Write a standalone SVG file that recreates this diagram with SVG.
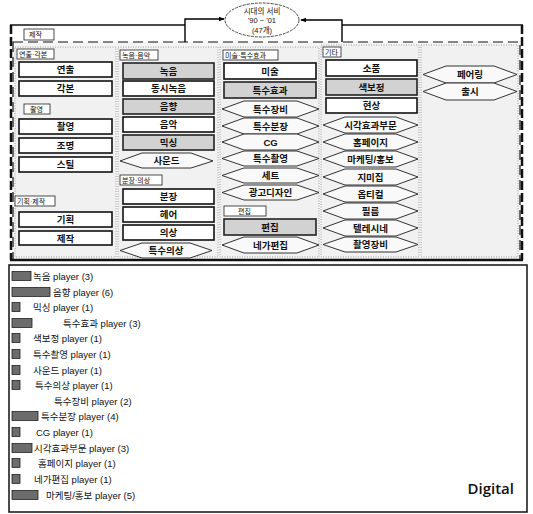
<svg xmlns="http://www.w3.org/2000/svg" width="533" height="514" viewBox="0 0 533 514">
<defs>
<marker id="ah" viewBox="0 0 10 10" refX="9" refY="5" markerWidth="6" markerHeight="6" orient="auto" markerUnits="userSpaceOnUse"><path d="M0,1 L10,5 L0,9 z" fill="#000"/></marker>
<style>
text{font-family:"Liberation Sans","Noto Sans CJK KR",sans-serif;fill:#111}
.n{font-size:9.5px;font-weight:bold;text-anchor:middle;dominant-baseline:central}
.lb{font-size:7px;dominant-baseline:central}
.box{fill:#fff;stroke:#111;stroke-width:1.6}
.sh{fill:#d2d2d2;stroke:#222;stroke-width:1.6}
.hex{fill:#f9f9f9;stroke:#333;stroke-width:1}
.lab{fill:#fff;stroke:#222;stroke-width:0.8}
.col{fill:#f1f1f1;stroke:#8a8a8a;stroke-width:0.8;stroke-dasharray:1 1.5}
.lg{font-size:9.5px;dominant-baseline:central}
.bar{fill:#6c6c6c;stroke:#222;stroke-width:0.8}
.cn{fill:none;stroke:#000;stroke-width:1.4}
</style>
</defs>
<rect width="533" height="514" fill="#fff"/>

<!-- top frame -->
<g id="frame">
<rect x="13" y="42" width="507" height="218" fill="#f5f5f5" stroke="#111" stroke-width="1.2" stroke-dasharray="10 5"/>
<path d="M10,25 H185 M342,25 H523" stroke="#111" stroke-width="1.5" fill="none"/>
<path d="M11,25 V260 M522,25 V260" stroke="#111" stroke-width="2.5" fill="none" stroke-dasharray="9 3"/>
<path d="M10,260 H523" stroke="#111" stroke-width="2.5" fill="none"/>
<rect class="lab" x="24" y="29" width="30" height="11"/><text class="lb" x="29" y="34.5">제작</text>
</g>

<g id="columns">
<rect class="col" x="15" y="47" width="101" height="210"/>
<rect class="col" x="118" y="47" width="100" height="210"/>
<rect class="col" x="220" y="47" width="99" height="210"/>
<rect class="col" x="321" y="45" width="98" height="212"/>
<rect class="col" x="421" y="45" width="97" height="212"/>
</g>

<!-- connectors -->
<g id="connectors">
<path class="cn" d="M185,42 V19 H224" marker-end="url(#ah)"/>
<path class="cn" d="M342,42 V20 H301" marker-end="url(#ah)"/>
</g>

<g id="era">
<ellipse cx="262" cy="20" rx="37" ry="17" fill="#fff" stroke="#333" stroke-width="0.9" stroke-dasharray="3 1"/>
<text x="262" y="11" font-size="7.5" text-anchor="middle" dominant-baseline="central">시대의 서비</text>
<text x="262" y="20.5" font-size="7.5" text-anchor="middle" dominant-baseline="central">'90 ~ '01</text>
<text x="262" y="30" font-size="7.5" text-anchor="middle" dominant-baseline="central">(47개)</text>
</g>

<!-- column 1 -->
<g id="c1-label1"><rect class="lab" x="17" y="49" width="37" height="10"/><text class="lb" x="19" y="54">연출·각본</text></g>
<g id="n-yeonchul"><rect class="box" x="19" y="62" width="93" height="15"/><text class="n" x="65.5" y="69.5">연출</text></g>
<g id="n-gakbon"><rect class="box" x="19" y="81" width="93" height="15"/><text class="n" x="65.5" y="88.5">각본</text></g>
<g id="c1-label2"><rect class="lab" x="24" y="104" width="26" height="10"/><text class="lb" x="30" y="109">촬영</text></g>
<g id="n-chwal"><rect class="box" x="19" y="119" width="93" height="15"/><text class="n" x="65.5" y="126.5">촬영</text></g>
<g id="n-jomyeong"><rect class="box" x="19" y="138" width="93" height="15"/><text class="n" x="65.5" y="145.5">조명</text></g>
<g id="n-still"><rect class="box" x="19" y="157" width="93" height="15"/><text class="n" x="65.5" y="164.5">스틸</text></g>
<g id="c1-label3"><rect class="lab" x="15" y="196" width="40" height="10"/><text class="lb" x="17" y="201">기획·제작</text></g>
<g id="n-gihoek"><rect class="box" x="19" y="212" width="93" height="15"/><text class="n" x="65.5" y="219.5">기획</text></g>
<g id="n-jejak"><rect class="box" x="19" y="231" width="93" height="14"/><text class="n" x="65.5" y="238">제작</text></g>

<!-- column 2 -->
<g id="c2-label1"><rect class="lab" x="120" y="50" width="38" height="10"/><text class="lb" x="122" y="55">녹음·음악</text></g>
<g id="n-noeum"><rect class="sh" x="123" y="63" width="91" height="16"/><text class="n" x="168.5" y="71">녹음</text></g>
<g id="n-dongsi"><rect class="box" x="123" y="81" width="91" height="15"/><text class="n" x="168.5" y="88.5">동시녹음</text></g>
<g id="n-eumhyang"><rect class="sh" x="123" y="99" width="91" height="15"/><text class="n" x="168.5" y="106.5">음향</text></g>
<g id="n-eumak"><rect class="box" x="123" y="117" width="91" height="15"/><text class="n" x="168.5" y="124.5">음악</text></g>
<g id="n-mixing"><rect class="sh" x="123" y="135" width="91" height="15"/><text class="n" x="168.5" y="142.5">믹싱</text></g>
<g id="n-sound"><polygon class="hex" points="120,161 142,153 191,153 213,161 191,168 142,168"/><text class="n" x="166.5" y="160.5">사운드</text></g>
<g id="c2-label2"><rect class="lab" x="120" y="175" width="42" height="10"/><text class="lb" x="122" y="180">분장·의상</text></g>
<g id="n-bunjang"><rect class="box" x="123" y="189" width="91" height="15"/><text class="n" x="168.5" y="196.5">분장</text></g>
<g id="n-hair"><rect class="box" x="123" y="207" width="91" height="15"/><text class="n" x="168.5" y="214.5">헤어</text></g>
<g id="n-uisang"><rect class="box" x="123" y="225" width="91" height="15"/><text class="n" x="168.5" y="232.5">의상</text></g>
<g id="n-teuk-uisang"><polygon class="hex" points="120,250.5 142,243 190,243 212,250.5 190,258 142,258"/><text class="n" x="166" y="250.5">특수의상</text></g>

<!-- column 3 -->
<g id="c3-label1"><rect class="lab" x="223" y="50" width="55" height="10"/><text class="lb" x="225" y="55">미술·특수효과</text></g>
<g id="n-misul"><rect class="box" x="224" y="63" width="92" height="16"/><text class="n" x="270" y="71">미술</text></g>
<g id="n-teukhyo"><rect class="sh" x="224" y="82" width="92" height="16"/><text class="n" x="270" y="90">특수효과</text></g>
<g id="n-teukjangbi"><polygon class="hex" points="222,109 244,101 297,101 319,109 297,117 244,117"/><text class="n" x="270.5" y="109">특수장비</text></g>
<g id="n-teukbunjang"><polygon class="hex" points="222,126 244,118 297,118 319,126 297,134 244,134"/><text class="n" x="270.5" y="126">특수분장</text></g>
<g id="n-cg"><polygon class="hex" points="222,142 244,134 297,134 319,142 297,150 244,150"/><text class="n" x="270.5" y="142">CG</text></g>
<g id="n-teukchwal"><polygon class="hex" points="222,158.5 244,151 297,151 319,158.5 297,166 244,166"/><text class="n" x="270.5" y="158.5">특수촬영</text></g>
<g id="n-set"><polygon class="hex" points="222,175.5 244,168 297,168 319,175.5 297,183 244,183"/><text class="n" x="270.5" y="175.5">세트</text></g>
<g id="n-gwanggo"><polygon class="hex" points="222,192.5 244,185 297,185 319,192.5 297,200 244,200"/><text class="n" x="270.5" y="192.5">광고디자인</text></g>
<g id="c3-label2"><rect class="lab" x="224" y="206" width="42" height="10"/><text class="lb" x="238" y="211">편집</text></g>
<g id="n-pyeonjip"><rect class="sh" x="224" y="219" width="92" height="16"/><text class="n" x="270" y="227">편집</text></g>
<g id="n-nega"><polygon class="hex" points="222,245 244,237 297,237 319,245 297,253 244,253"/><text class="n" x="270.5" y="245">네가편집</text></g>

<!-- column 4 -->
<g id="c4-label1"><rect class="lab" x="323" y="47" width="18" height="10"/><text class="lb" x="325" y="52">기타</text></g>
<g id="n-sopum"><rect class="box" x="326" y="60" width="91" height="16"/><text class="n" x="371.5" y="68">소품</text></g>
<g id="n-saekbo"><rect class="sh" x="326" y="79" width="91" height="16"/><text class="n" x="371.5" y="87">색보정</text></g>
<g id="n-hyeonsang"><rect class="box" x="326" y="98" width="91" height="15"/><text class="n" x="371.5" y="105.5">현상</text></g>
<g id="n-sigak"><polygon class="hex" points="323,125 345,117 396,117 418,125 396,133 345,133"/><text class="n" x="370.5" y="125">시각효과부문</text></g>
<g id="n-home"><polygon class="hex" points="323,142 345,134 396,134 418,142 396,150 345,150"/><text class="n" x="370.5" y="142">홈페이지</text></g>
<g id="n-marketing"><polygon class="hex" points="323,159 345,151 396,151 418,159 396,167 345,167"/><text class="n" x="370.5" y="159">마케팅/홍보</text></g>
<g id="n-jimmy"><polygon class="hex" points="323,177 345,169 396,169 418,177 396,185 345,185"/><text class="n" x="370.5" y="177">지미집</text></g>
<g id="n-optical"><polygon class="hex" points="323,194 345,186 396,186 418,194 396,202 345,202"/><text class="n" x="370.5" y="194">옵티컬</text></g>
<g id="n-film"><polygon class="hex" points="323,211 345,203 396,203 418,211 396,219 345,219"/><text class="n" x="370.5" y="211">필름</text></g>
<g id="n-telecine"><polygon class="hex" points="323,228 345,220 396,220 418,228 396,236 345,236"/><text class="n" x="370.5" y="228">텔레시네</text></g>
<g id="n-jangbi"><polygon class="hex" points="323,244.5 345,237 396,237 418,244.5 396,252 345,252"/><text class="n" x="370.5" y="244.5">촬영장비</text></g>

<!-- column 5 -->
<g id="n-pairing"><polygon class="hex" points="423,74.5 446,66 494,66 517,74.5 494,83 446,83"/><text class="n" x="470" y="74.5">페어링</text></g>
<g id="n-chulsi"><polygon class="hex" points="423,91.5 446,83 494,83 517,91.5 494,100 446,100"/><text class="n" x="470" y="91.5">출시</text></g>

<!-- bottom legend panel -->
<g id="legend">
<rect x="9" y="265" width="518" height="247" fill="#fff" stroke="#111" stroke-width="1.5"/>
<rect class="bar" x="12" y="271.5" width="19" height="9"/><text class="lg" x="33" y="276">녹음 player (3)</text>
<rect class="bar" x="12" y="287.5" width="38" height="9"/><text class="lg" x="53" y="292">음향 player (6)</text>
<rect class="bar" x="12" y="302.5" width="8" height="9"/><text class="lg" x="33" y="307">믹싱 player (1)</text>
<rect class="bar" x="12" y="318.5" width="20" height="9"/><text class="lg" x="63" y="323">특수효과 player (3)</text>
<rect class="bar" x="12" y="333.5" width="8" height="9"/><text class="lg" x="33" y="338">색보정 player (1)</text>
<rect class="bar" x="12" y="349.5" width="8" height="9"/><text class="lg" x="33" y="354">특수촬영 player (1)</text>
<rect class="bar" x="12" y="365.5" width="8" height="9"/><text class="lg" x="33" y="370">사운드 player (1)</text>
<rect class="bar" x="12" y="380.5" width="8" height="9"/><text class="lg" x="35" y="385">특수의상 player (1)</text>
<text class="lg" x="54" y="401">특수장비 player (2)</text>
<rect class="bar" x="12" y="411.5" width="26" height="9"/><text class="lg" x="41" y="416">특수분장 player (4)</text>
<rect class="bar" x="12" y="427.5" width="8" height="9"/><text class="lg" x="36" y="432">CG player (1)</text>
<rect class="bar" x="12" y="443.5" width="20" height="9"/><text class="lg" x="34" y="448">시각효과부문 player (3)</text>
<rect class="bar" x="12" y="458.5" width="8" height="9"/><text class="lg" x="38" y="463">홈페이지 player (1)</text>
<rect class="bar" x="12" y="474.5" width="8" height="9"/><text class="lg" x="34" y="479">네가편집 player (1)</text>
<rect class="bar" x="12" y="490.5" width="26" height="9"/><text class="lg" x="46" y="495">마케팅/홍보 player (5)</text>
<text x="514" y="494" font-size="15" font-weight="600" text-anchor="end" style="font-family:'Open Sans','Liberation Sans',sans-serif">Digital</text>
</g>
</svg>
